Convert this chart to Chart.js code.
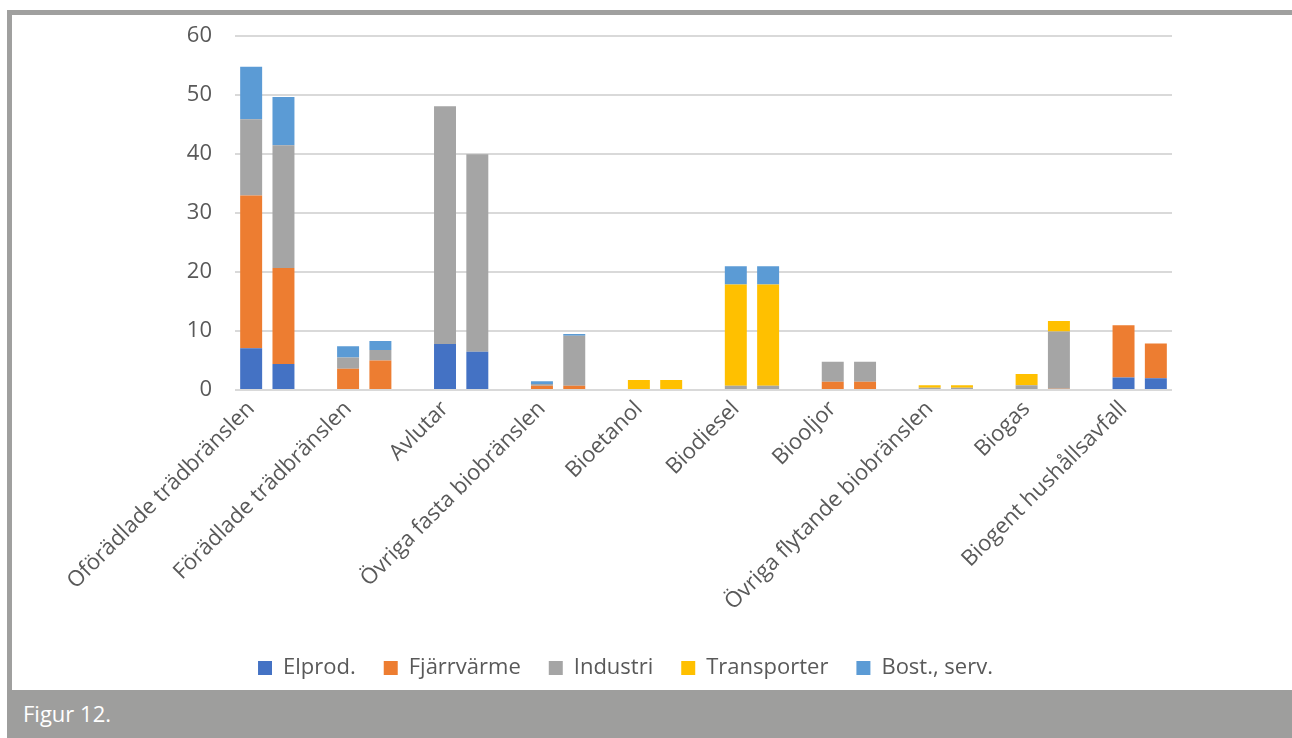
<!DOCTYPE html>
<html lang="sv">
<head>
<meta charset="utf-8">
<title>Figur 12</title>
<script src="https://cdn.jsdelivr.net/npm/chart.js@4.4.1/dist/chart.umd.min.js"></script>
<style>
  html, body { margin: 0; padding: 0; background: #fff; }
  body { width: 1292px; height: 738px; position: relative; overflow: hidden; font-family: "Open Sans", sans-serif; }
  #wrap { position: absolute; left: 12px; top: 0; width: 1280px; height: 738px; }
  .frame { position: absolute; left: 7px; top: 10px; right: 0; bottom: 0; z-index: 1; pointer-events: none;
           border-left: 5px solid #a0a09f; border-top: 5px solid #a0a09f; }
  .caption { position: absolute; left: 7px; top: 690px; right: 0; bottom: 0; background: #9e9e9d; color: #fff;
             font-size: 22px; line-height: 46px; padding-left: 16px; z-index: 2; }
</style>
</head>
<body>
<div id="wrap"><canvas id="chart" width="1280" height="738"></canvas></div>
<div class="frame"></div>
<div class="caption">Figur 12.</div>
<script>
// Kategorier, två staplar per kategori (TWh)
const categories = [
    'Oförädlade trädbränslen', 'Förädlade trädbränslen', 'Avlutar', 'Övriga fasta biobränslen',
    'Bioetanol', 'Biodiesel', 'Biooljor', 'Övriga flytande biobränslen', 'Biogas', 'Biogent hushållsavfall'
]
const yTicks = [0, 10, 20, 30, 40, 50, 60]

// värden parvis: [stapel 1, stapel 2] per kategori
const elprod      = [7.1, 4.4,   0, 0,     7.8, 6.5,   0, 0,     0, 0,     0, 0,      0, 0,     0, 0,     0, 0,     2.1, 2.0]
const fjarrvarme  = [25.9, 16.3, 3.6, 5.0, 0, 0,       0.7, 0.7, 0, 0,     0, 0,      1.4, 1.4, 0, 0,     0, 0.2,   8.9, 5.9]
const industri    = [12.9, 20.8, 1.9, 1.8, 40.3, 33.5, 0.3, 8.5, 0, 0,     0.7, 0.7,  3.4, 3.4, 0.4, 0.4, 0.8, 9.7,   0, 0]
const transporter = [0, 0,       0, 0,     0, 0,       0, 0,     1.7, 1.7, 17.2, 17.2, 0, 0,    0.4, 0.4, 1.9, 1.8,   0, 0]
const bostServ    = [8.9, 8.2,   1.9, 1.5, 0, 0,       0.5, 0.3, 0, 0,     3.1, 3.1,  0, 0,     0, 0,     0, 0,     0, 0]

// tre platser per kategori (stapel, stapel, tom), sista tomma platsen utelämnas
const slots = (pairs) => {
    let out = []
    for (let i = 0; i < categories.length; i++) {
        out.push(pairs[2 * i], pairs[2 * i + 1])
        if (i < categories.length - 1) out.push(null)
    }
    return out
}
const slotLabels = slots(categories.flatMap(c => [c, '']))

const series = [
    { label: 'Elprod.', data: elprod, color: '#4472c4' },
    { label: 'Fjärrvärme', data: fjarrvarme, color: '#ed7d31' },
    { label: 'Industri', data: industri, color: '#a5a5a5' },
    { label: 'Transporter', data: transporter, color: '#ffc000' },
    { label: 'Bost., serv.', data: bostServ, color: '#5b9bd5' }
]

const font = { family: '"Open Sans", sans-serif', size: 22 }
const textColor = '#595959'

new Chart(document.getElementById('chart'), {
    type: 'bar',
    data: {
        labels: slotLabels.map(l => l || ''),
        datasets: series.map(s => ({
            label: s.label,
            data: slots(s.data),
            backgroundColor: s.color,
            borderWidth: 0,
            barPercentage: 0.68,
            categoryPercentage: 1
        }))
    },
    options: {
        responsive: false,
        animation: false,
        layout: { padding: { left: 67, right: 120, top: 7, bottom: 49 } },
        scales: {
            x: {
                stacked: true,
                grid: { display: false, drawTicks: false },
                border: { display: false },
                ticks: {
                    autoSkip: false,
                    minRotation: 45,
                    maxRotation: 45,
                    padding: 6,
                    color: textColor,
                    font: { ...font, size: 22 }
                },
                afterFit: s => { s.height = 239 }
            },
            y: {
                stacked: true,
                min: yTicks[0],
                max: yTicks[yTicks.length - 1],
                grid: { color: '#d9d9d9', lineWidth: 2, drawTicks: false },
                border: { display: false },
                ticks: {
                    stepSize: yTicks[1] - yTicks[0],
                    padding: 23,
                    color: textColor,
                    font
                },
                afterFit: s => { s.width = 156 }
            }
        },
        plugins: {
            tooltip: { enabled: false },
            legend: {
                position: 'bottom',
                labels: {
                    boxWidth: 14,
                    boxHeight: 14,
                    padding: 28,
                    color: textColor,
                    font
                }
            }
        }
    }
})
</script>
</body>
</html>
